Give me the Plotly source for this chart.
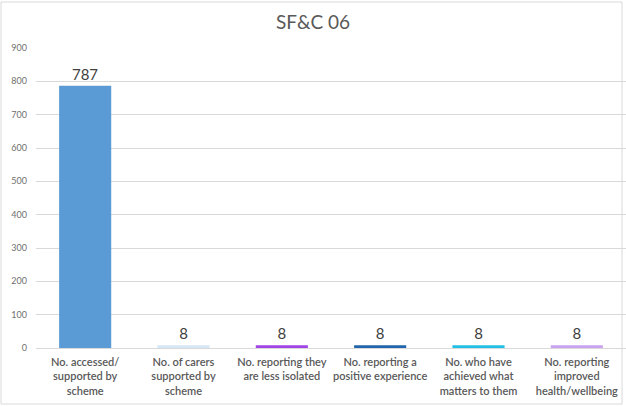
import plotly.graph_objects as go

categories = [
    "No. accessed/<br>supported by<br>scheme",
    "No. of carers<br>supported by<br>scheme",
    "No. reporting they<br>are less isolated",
    "No. reporting a<br>positive experience",
    "No. who have<br>achieved what<br>matters to them",
    "No. reporting<br>improved<br>health/wellbeing",
]
values = [787, 8, 8, 8, 8, 8]
bar_colors = ["#5B9BD5", "#D5E6F5", "#A044E6", "#2166AC", "#22BFE6", "#C9A2F0"]
y_ticks = [0, 100, 200, 300, 400, 500, 600, 700, 800, 900]

fig = go.Figure(
    go.Bar(
        x=categories,
        y=values,
        marker=dict(color=bar_colors, line=dict(width=0)),
        text=[str(v) for v in values],
        textposition="outside",
        textfont=dict(size=15, color="#404040", family="Lato"),
        cliponaxis=False,
    )
)

fig.update_layout(
    width=626,
    height=406,
    margin=dict(l=36, r=0, t=48, b=58),
    paper_bgcolor="white",
    plot_bgcolor="white",
    font=dict(family="Lato", color="#595959"),
    title=dict(
        text="SF&C 06",
        x=0.5,
        xanchor="center",
        y=1 - 22 / 406,
        yanchor="middle",
        font=dict(size=19, color="#595959", family="Lato"),
    ),
    bargap=0.47,
    showlegend=False,
    shapes=[
        dict(
            type="rect",
            xref="paper",
            yref="paper",
            x0=-35 / 590,
            x1=586 / 590,
            y0=-56 / 300,
            y1=1 + 46 / 300,
            line=dict(color="#D9D9D9", width=1),
            layer="below",
        )
    ],
)

fig.update_xaxes(
    showgrid=False,
    showline=False,
    zeroline=False,
    tickfont=dict(size=11, color="#595959", family="Lato", weight=600),
    ticks="",
    ticklabelstandoff=6,
)
fig.update_yaxes(
    range=[0, 900],
    tickvals=y_ticks,
    showgrid=True,
    gridcolor="#D9D9D9",
    gridwidth=1,
    zeroline=True,
    zerolinecolor="#D9D9D9",
    zerolinewidth=1,
    showline=False,
    tickfont=dict(size=9, color="#6F6F6F", family="Lato"),
    ticks="",
    ticklabelstandoff=8,
)

fig.write_html(
    "out.html",
    config={"displayModeBar": False},
    post_script="document.body.style.margin='0px';document.body.style.overflow='hidden';",
)
